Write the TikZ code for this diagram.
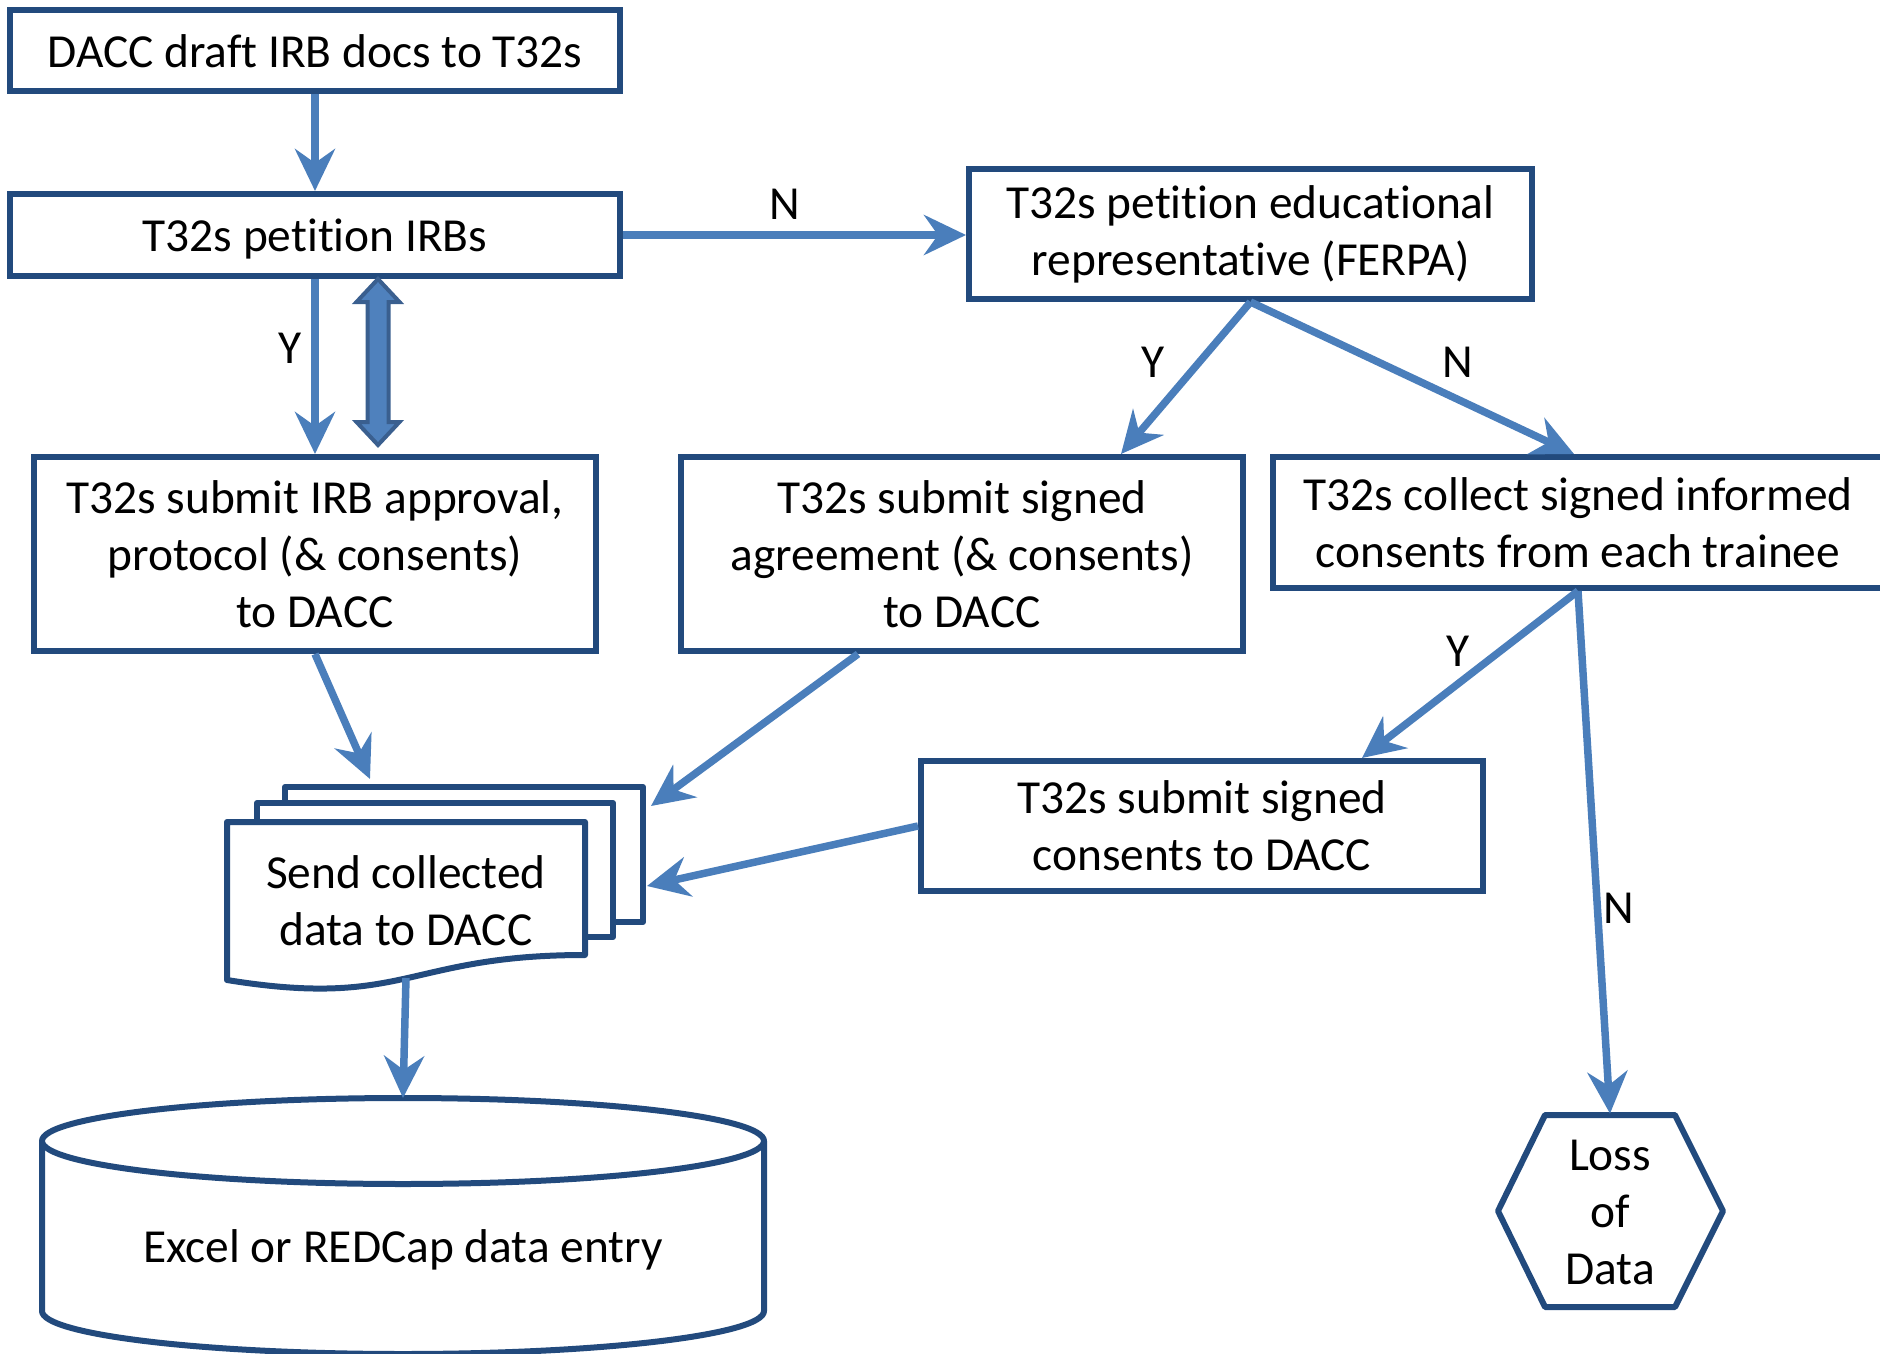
\documentclass[tikz,border=0pt]{standalone}
\usepackage{fontspec}
\setmainfont{Carlito}[Ligatures=NoCommon]
\usetikzlibrary{arrows.meta,calc}
\definecolor{bord}{HTML}{224A7D}
\definecolor{arr}{HTML}{4A7EBB}
\definecolor{dafill}{HTML}{4F81BD}
\definecolor{daline}{HTML}{3A5F8F}
\newcommand\diagfont{\fontsize{23.7pt}{28.5pt}\selectfont}
\newcommand\boxstrut{\rule[-6pt]{0pt}{28.6pt}}
\newcommand\topstrut{\rule{0pt}{19.5pt}}
\newcommand\talltopstrut{\rule{0pt}{23pt}}
\tikzset{
  box/.style={draw=bord, line width=3pt, fill=white, align=center, inner sep=0pt, font=\diagfont},
  oneline/.style={box, execute at begin node=\boxstrut, execute at end node=\boxstrut},
  multiline/.style={box, execute at begin node=\topstrut},
  page/.style={draw=bord, line width=3pt, fill=white, line join=round},
  conn/.style={draw=arr, line width=3.75pt, -{Stealth[length=21pt,width=20pt,inset=7pt]}},
  lbl/.style={font=\diagfont, inner sep=0pt, align=center},
}
\begin{document}
\begin{tikzpicture}[x=0.5pt,y=-0.5pt]
\clip (0,0) rectangle (1880,1354);
% boxes
\node[oneline, minimum width=305pt, minimum height=40.5pt] (b1) at (315,50.5) {DACC draft IRB docs to T32s};
\node[oneline, minimum width=305pt, minimum height=41pt] (b2) at (315,235) {T32s petition IRBs};
\node[box, execute at begin node=\talltopstrut, minimum width=281.5pt, minimum height=65pt] (b3) at (1250.5,234) {T32s petition educational\\representative (FERPA)};
\node[multiline, minimum width=281pt, minimum height=97pt] (b4) at (315,554) {T32s submit IRB approval,\\protocol (\& consents)\\to DACC};
\node[multiline, minimum width=281pt, minimum height=97pt] (b5) at (962,554) {T32s submit signed\\agreement (\& consents)\\to DACC};
\node[multiline, minimum width=305pt, minimum height=65.5pt] (b6) at (1578,522.5) {T32s collect signed informed\\consents from each trainee};
\node[multiline, minimum width=281pt, minimum height=65pt] (b7) at (1202,826) {T32s submit signed\\consents to DACC};
% multi-document
\draw[page] (285,787) rectangle (643,922);
\draw[page] (257,803) rectangle (613,937);
\draw[page] (227,822) -- (585,822) -- (585,955) .. controls (406,955) and (406,1009) .. (227,980) -- cycle;
\node[lbl] (doc) at (406,901) {Send collected\\data to DACC};
\coordinate (docT) at (370,779);
\coordinate (docR1) at (651,806);
\coordinate (docR2) at (647,886);
\coordinate (docB) at (406,978);
% cylinder
\draw[page] (42,1141) -- (42,1311) .. controls (42,1334.7) and (203.6,1354) .. (403,1354) .. controls (602.4,1354) and (764,1334.7) .. (764,1311) -- (764,1141);
\draw[page] (403,1141) ellipse [x radius=361, y radius=43];
\node[lbl] (db) at (403,1250) {Excel or REDCap data entry};
\coordinate (dbT) at (403,1098);
% hexagon
\node[lbl, minimum height=96pt] (loss) at (1610,1212) {Loss\\of\\Data};
\draw[draw=bord, line width=3pt, line join=round] ($(loss)+(-112,-1)$) -- ($(loss)+(-65,-97)$) -- ($(loss)+(65,-97)$) -- ($(loss)+(113,-1)$) -- ($(loss)+(65,95)$) -- ($(loss)+(-65,95)$) -- cycle;
% connectors
\draw[conn] (b1) -- (b2);
\draw[conn] (b2.east) -- (b2.east -| b3.west);
\draw[conn] (b2) -- (b4);
\draw[conn] (b3.south) -- ($(b5.north)+(159,0)$);
\draw[conn] (b3.south) -- ($(b6.north)+(-4,0)$);
\draw[conn] (b6.south) -- ($(b7.north)+(160,0)$);
\draw[conn] (b6.south) -- ($(loss.north)+(0,-2)$);
\draw[conn] (b4.south) -- (docT);
\draw[conn] ($(b5.south)+(-104,0)$) -- (docR1);
\draw[conn] (b7.west) -- (docR2);
\draw[conn] (docB) -- (dbT);
% double arrow
\coordinate (da1) at (378,279);
\coordinate (da2) at (378,445);
\draw[draw=daline, fill=dafill, line width=2pt, line join=miter] (da1) -- ++(21.5,23) -- ++(-11,0) -- ($(da2)+(10.5,-23)$) -- ++(11,0) -- (da2) -- ++(-21.5,-23) -- ++(11,0) -- ($(da1)+(-10.5,23)$) -- ++(-11,0) -- cycle;
% labels
\node[lbl] (nA) at (785,204) {N};
\node[lbl] (yA) at (290,348) {Y};
\node[lbl] (yB) at (1153,362) {Y};
\node[lbl] (nB) at (1458,362) {N};
\node[lbl] (yC) at (1458,651) {Y};
\node[lbl] (nC) at (1619,908) {N};
\end{tikzpicture}
\end{document}
